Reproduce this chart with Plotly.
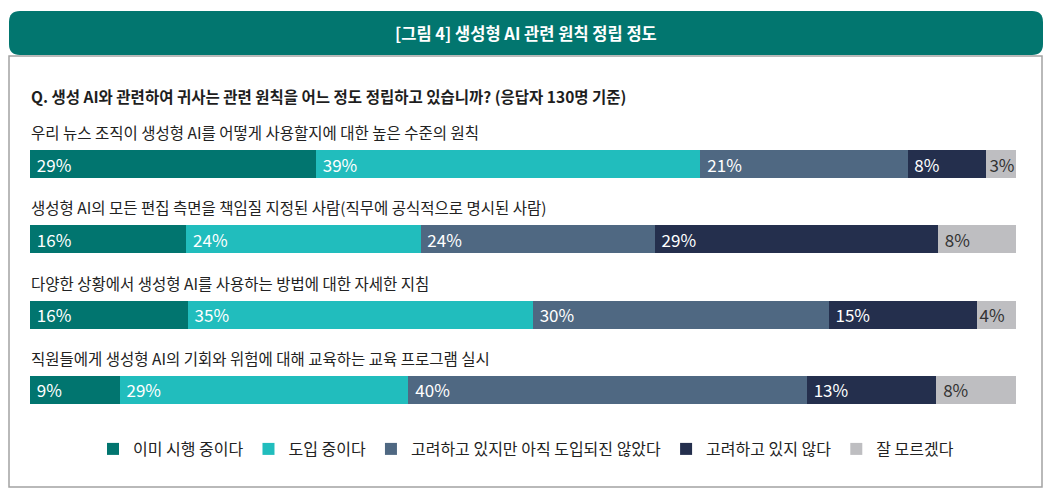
import plotly.graph_objects as go

W, H = 1052, 499


def px(x):
    return x / W


def py(y):
    return 1 - y / H


# data
items = [
    "우리 뉴스 조직이 생성형 AI를 어떻게 사용할지에 대한 높은 수준의 원칙",
    "생성형 AI의 모든 편집 측면을 책임질 지정된 사람(직무에 공식적으로 명시된 사람)",
    "다양한 상황에서 생성형 AI를 사용하는 방법에 대한 자세한 지침",
    "직원들에게 생성형 AI의 기회와 위험에 대해 교육하는 교육 프로그램 실시",
]
answers = ["이미 시행 중이다", "도입 중이다", "고려하고 있지만 아직 도입되진 않았다", "고려하고 있지 않다", "잘 모르겠다"]
already = [29, 16, 16, 9]
adopting = [39, 24, 35, 29]
considering = [21, 24, 30, 40]
not_considering = [8, 29, 15, 13]
dont_know = [3, 8, 4, 8]

series = [already, adopting, considering, not_considering, dont_know]
colors = ["#01756f", "#21bdbd", "#4f6882", "#242f4d", "#bebec1"]
text_colors = ["white", "white", "white", "white", "#333333"]

title = "[그림 4] 생성형 AI 관련 원칙 정립 정도"
question = "Q. 생성 AI와 관련하여 귀사는 관련 원칙을 어느 정도 정립하고 있습니까? (응답자 130명 기준)"

FONT = "Noto Sans CJK KR"

fig = go.Figure()
for name, vals, col, tcol in zip(answers, series, colors, text_colors):
    # small padding before the label, except for very thin segments
    labels = [("\u00a0" if v >= 5 else "") + f"{v}%" for v in vals]
    fig.add_trace(go.Bar(
        y=items,
        x=vals,
        orientation="h",
        name=name,
        marker=dict(color=col, line=dict(width=0)),
        text=labels,
        texttemplate="%{text}",
        textposition="inside",
        insidetextanchor="start",
        textfont=dict(color=tcol, size=17, family=FONT),
        hoverinfo="skip",
    ))

# header bar with rounded corners
x0, x1, y0, y1, r = 9, 1043, 11, 55, 11
path = (
    f"M {px(x0 + r)},{py(y0)} L {px(x1 - r)},{py(y0)} "
    f"Q {px(x1)},{py(y0)} {px(x1)},{py(y0 + r)} "
    f"L {px(x1)},{py(y1 - r)} Q {px(x1)},{py(y1)} {px(x1 - r)},{py(y1)} "
    f"L {px(x0 + r)},{py(y1)} Q {px(x0)},{py(y1)} {px(x0)},{py(y1 - r)} "
    f"L {px(x0)},{py(y0 + r)} Q {px(x0)},{py(y0)} {px(x0 + r)},{py(y0)} Z"
)
shapes = [
    dict(type="rect", xref="paper", yref="paper",
         x0=px(9), x1=px(1042), y0=py(487), y1=py(56),
         line=dict(color="#a3a3a3", width=1.5), fillcolor="rgba(0,0,0,0)", layer="below"),
    dict(type="path", xref="paper", yref="paper", path=path,
         fillcolor="#02766f", line=dict(width=0)),
]

annotations = [
    dict(text=title, x=px(526), y=py(33), xref="paper", yref="paper",
         showarrow=False, xanchor="center", yanchor="middle",
         font=dict(family=FONT, size=16.5, color="white", weight="bold")),
    dict(text=question, x=px(29), y=py(96), xref="paper", yref="paper",
         showarrow=False, xanchor="left", yanchor="middle",
         font=dict(family=FONT, size=15.5, color="#1e1e1e", weight="bold")),
]
for it in items:
    annotations.append(dict(
        text=it, x=px(29), y=it, xref="paper", yref="y", yshift=32,
        showarrow=False, xanchor="left", yanchor="middle",
        font=dict(family=FONT, size=15.5, color="#222222"),
    ))

fig.update_layout(
    width=W, height=H,
    margin=dict(l=0, r=0, t=0, b=0),
    paper_bgcolor="white", plot_bgcolor="white",
    barmode="stack", barnorm="percent", bargap=0.628,
    font=dict(family=FONT, color="#222222"),
    xaxis=dict(domain=[px(30), px(1016)], range=[0, 100], visible=False, fixedrange=True),
    yaxis=dict(domain=[0, 1], range=[4.447, -2.177], visible=False, fixedrange=True),
    showlegend=True,
    legend=dict(orientation="h", x=0.5, xanchor="center", y=py(449), yanchor="middle",
                font=dict(family=FONT, size=16, color="#222222"),
                traceorder="normal", itemclick=False, itemdoubleclick=False),
    shapes=shapes,
    annotations=annotations,
    uniformtext=dict(mode="show", minsize=17),
)

fig.write_html("out.html", config={"displayModeBar": False},
               post_script="document.body.style.margin='0';")
